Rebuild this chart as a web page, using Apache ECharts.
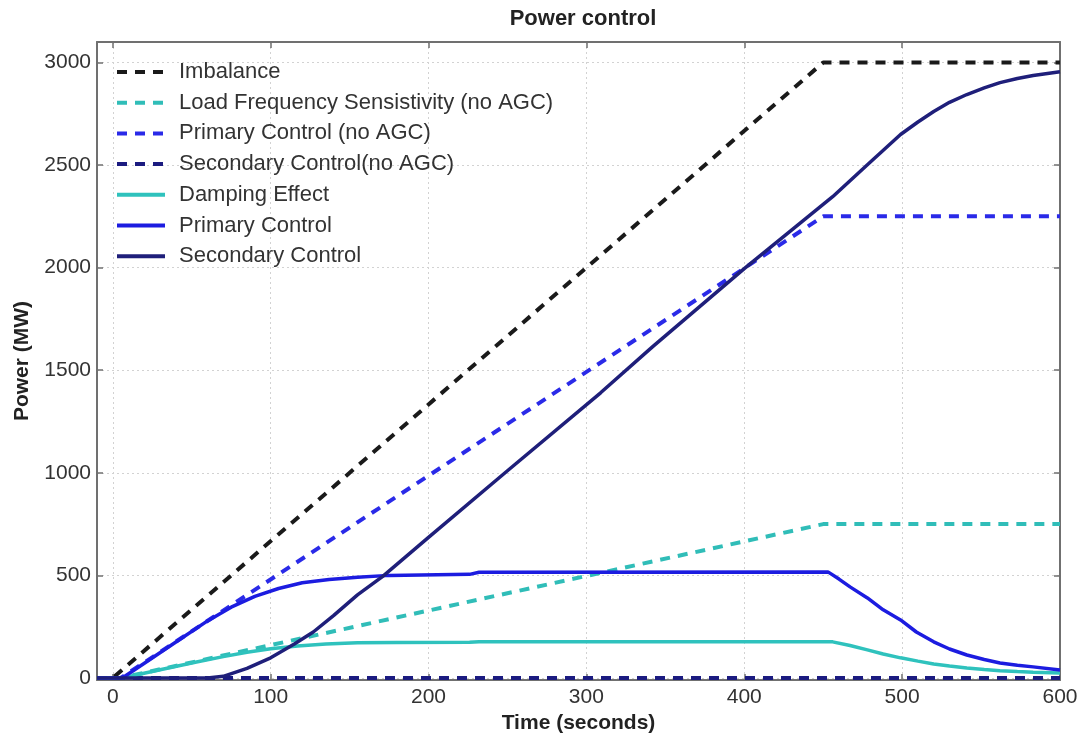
<!DOCTYPE html>
<html>
<head>
<meta charset="utf-8">
<title>Power control</title>
<script src="https://cdn.jsdelivr.net/npm/echarts@6.0.0/dist/echarts.min.js"></script>
<style>
  html, body { margin: 0; padding: 0; background: #fff; }
  #chart { width: 1086px; height: 735px; }
</style>
</head>
<body>
<div id="chart"></div>
<script>
// time (seconds) / power (MW)
var imbalanceT = [-10, 0, 450, 600]
var imbalanceP = [0, 0, 3000, 3000]

var lfsT = [-10, 5, 450, 600]
var lfsP = [0, 0, 750, 750]

var primaryNoAgcT = [-10, 5, 450, 600]
var primaryNoAgcP = [0, 0, 2250, 2250]

var secondaryNoAgcT = [-10, 600]
var secondaryNoAgcP = [0, 0]

var dampingT = [-10, 6, 30, 53, 70, 85, 100, 117, 135, 155, 180, 226, 232, 456, 467, 478, 488, 499, 510, 520, 530, 541, 552, 562, 573, 583, 600]
var dampingP = [0, 0, 40, 78, 104, 125, 142, 156, 165, 171, 173, 174, 176, 176, 158, 137, 117, 98, 82, 68, 58, 49, 41, 35, 31, 28, 24]

var primaryT = [-10, 6, 20, 40, 60, 75, 90, 105, 120, 137, 155, 175, 226, 232, 453, 460, 467, 478, 488, 499, 509, 520, 530, 541, 552, 562, 573, 583, 600]
var primaryP = [0, 0, 72, 175, 278, 345, 398, 436, 464, 480, 491, 500, 505, 515, 517, 482, 444, 390, 332, 283, 224, 176, 141, 112, 90, 73, 62, 54, 39]

var secondaryT = [-10, 60, 70, 85, 100, 115, 127, 140, 155, 171, 200, 250, 309, 342, 400, 435, 456, 478, 499, 510, 520, 530, 541, 552, 562, 573, 583, 600]
var secondaryP = [0, 0, 8, 47, 98, 165, 224, 305, 405, 495, 685, 1010, 1390, 1615, 1995, 2215, 2346, 2502, 2649, 2710, 2761, 2806, 2844, 2876, 2902, 2922, 2937, 2955]

var chart = echarts.init(document.getElementById('chart'))

function pairs(t, p) {
  return t.map(function (v, i) { return [v, p[i]] })
}

function line(name, color, dashed, t, p) {
  return {
    name: name,
    type: 'line',
    symbol: 'none',
    data: pairs(t, p),
    lineStyle: {
      color: color,
      width: dashed ? 4 : 3.5,
      type: dashed ? [10, 8] : 'solid'
    },
    itemStyle: { color: color }
  }
}

var font = "'Liberation Sans', Arial, sans-serif"
var frame = { show: true, onZero: false, lineStyle: { color: '#707070', width: 2 } }
var ticks = { show: true, inside: true, length: 6, lineStyle: { color: '#707070', width: 1.5 } }
var grid = { show: true, lineStyle: { color: '#d2d2d2', type: [2, 3], width: 1 } }

chart.setOption({
  animation: false,
  textStyle: { fontFamily: font },
  title: {
    text: 'Power control',
    left: 578,
    textAlign: 'center',
    top: 3,
    textStyle: { fontSize: 22, fontWeight: 'bold', color: '#222', fontFamily: font }
  },
  grid: {
    left: 97,
    right: 26,
    top: 42,
    bottom: 55,
    outerBoundsMode: 'none'
  },
  legend: {
    orient: 'vertical',
    left: 110,
    top: 56,
    itemWidth: 48,
    itemHeight: 14,
    itemGap: 8.7,
    itemStyle: { opacity: 0 },
    lineStyle: { width: 4 },
    textStyle: { fontSize: 22, color: '#333', padding: [0, 0, 0, 9], fontFamily: font },
    data: ['Imbalance', 'Load Frequency Sensistivity (no AGC)', 'Primary Control (no AGC)',
      'Secondary Control(no AGC)', 'Damping Effect', 'Primary Control', 'Secondary Control']
  },
  xAxis: [{
    type: 'value',
    position: 'bottom',
    min: -10,
    max: 600,
    splitNumber: 6,
    name: 'Time (seconds)',
    nameLocation: 'middle',
    nameGap: 28,
    nameTextStyle: { fontSize: 21, fontWeight: 'bold', color: '#222', fontFamily: font },
    axisLine: frame,
    axisTick: ticks,
    axisLabel: {
      fontSize: 21,
      color: '#333',
      margin: 7,
      showMinLabel: false,
      formatter: function (v) { return v % 100 === 0 ? String(v) : '' }
    },
    splitLine: grid
  }, {
    type: 'value',
    position: 'top',
    min: -10,
    max: 600,
    splitNumber: 6,
    axisLine: frame,
    axisTick: ticks,
    axisLabel: { show: false },
    splitLine: { show: false }
  }],
  yAxis: [{
    type: 'value',
    position: 'left',
    min: -10,
    max: 3100,
    splitNumber: 6,
    name: 'Power (MW)',
    nameLocation: 'middle',
    nameGap: 64,
    nameTextStyle: { fontSize: 21, fontWeight: 'bold', color: '#222', fontFamily: font },
    axisLine: frame,
    axisTick: ticks,
    axisLabel: {
      fontSize: 21,
      color: '#333',
      margin: 6,
      showMinLabel: false,
      showMaxLabel: false,
      formatter: function (v) { return v % 500 === 0 ? String(v) : '' }
    },
    splitLine: grid
  }, {
    type: 'value',
    position: 'right',
    min: -10,
    max: 3100,
    splitNumber: 6,
    axisLine: frame,
    axisTick: ticks,
    axisLabel: { show: false },
    splitLine: { show: false }
  }],
  series: [
    line('Imbalance', '#1a1a1a', true, imbalanceT, imbalanceP),
    line('Load Frequency Sensistivity (no AGC)', '#30bdb8', true, lfsT, lfsP),
    line('Primary Control (no AGC)', '#2a2ae8', true, primaryNoAgcT, primaryNoAgcP),
    line('Secondary Control(no AGC)', '#1b1b80', true, secondaryNoAgcT, secondaryNoAgcP),
    line('Damping Effect', '#2fc2bd', false, dampingT, dampingP),
    line('Primary Control', '#1c1ce0', false, primaryT, primaryP),
    line('Secondary Control', '#1f1f7a', false, secondaryT, secondaryP)
  ]
})
</script>
</body>
</html>
